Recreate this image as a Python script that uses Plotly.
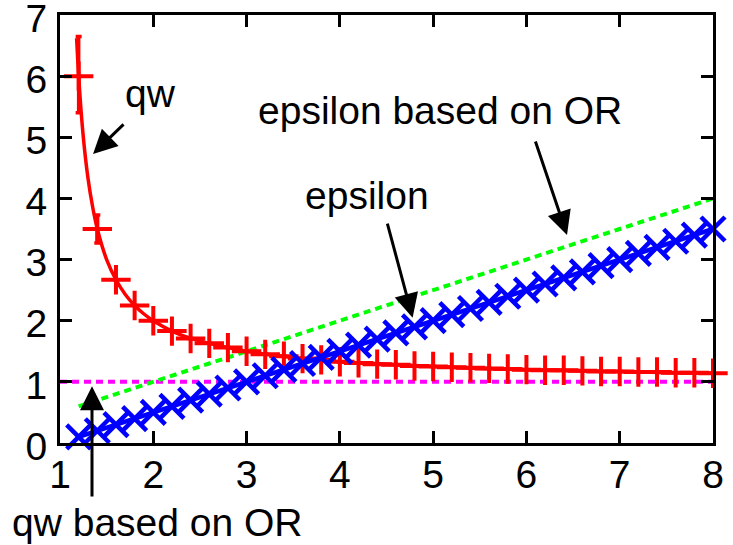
import plotly.graph_objects as go

# qw (measured points, + markers; error bars visible on the first points)
qw_alpha = [1.2, 1.4, 1.6, 1.8, 2.0, 2.2, 2.4, 2.6, 2.8, 3.0, 3.2, 3.4, 3.6, 3.8, 4.0,
            4.2, 4.4, 4.6, 4.8, 5.0, 5.2, 5.4, 5.6, 5.8, 6.0, 6.2, 6.4, 6.6, 6.8, 7.0,
            7.2, 7.4, 7.6, 7.8, 8.0]
qw_values = [6.0, 3.5, 2.67, 2.25, 2.0, 1.83, 1.71, 1.63, 1.56, 1.5, 1.45, 1.42, 1.38, 1.36, 1.33,
             1.31, 1.29, 1.28, 1.26, 1.25, 1.24, 1.23, 1.22, 1.21, 1.2, 1.19, 1.19, 1.18, 1.17, 1.17,
             1.16, 1.16, 1.15, 1.15, 1.14]
qw_err_plus = [0.65, 0.23] + [0.0] * 33
qw_err_minus = [0.6, 0.23] + [0.0] * 33

# qw theory curve (solid red)
qw_curve_alpha = [1.178, 1.2, 1.25, 1.3, 1.35, 1.4, 1.5, 1.6, 1.7, 1.8, 1.9, 2.0, 2.2, 2.4, 2.6,
                  2.8, 3.0, 3.5, 4.0, 4.5, 5.0, 5.5, 6.0, 6.5, 7.0, 7.5, 8.0]
qw_curve_values = [6.62, 6.0, 5.0, 4.33, 3.86, 3.5, 3.0, 2.67, 2.43, 2.25, 2.11, 2.0, 1.83, 1.71, 1.63,
                   1.56, 1.5, 1.4, 1.33, 1.29, 1.25, 1.22, 1.2, 1.18, 1.17, 1.15, 1.14]

# epsilon (blue x)
eps_alpha = qw_alpha
eps_values = [0.1, 0.2, 0.3, 0.4, 0.5, 0.6, 0.7, 0.8, 0.9, 1.0, 1.1, 1.2, 1.3, 1.4, 1.5,
              1.6, 1.7, 1.8, 1.9, 2.0, 2.1, 2.2, 2.3, 2.4, 2.5, 2.6, 2.7, 2.8, 2.9, 3.0,
              3.1, 3.2, 3.3, 3.4, 3.5]

# epsilon based on OR (green dotted)
eps_or_alpha = [1.2, 8.0]
eps_or_values = [0.6, 4.0]

# qw based on OR (magenta dotted)
qw_or_alpha = [1.0, 8.0]
qw_or_values = [1.0, 1.0]

x_ticks = [1, 2, 3, 4, 5, 6, 7, 8]
y_ticks = [0, 1, 2, 3, 4, 5, 6, 7]

FONT = "Liberation Sans, Arial, sans-serif"
FS = 39
RED = "#ff0000"
BLUE = "#0000ff"

fig = go.Figure()

fig.add_trace(go.Scatter(x=qw_or_alpha, y=qw_or_values, mode="lines",
                         line=dict(color="#ff00ff", width=4, dash="7px,5px"),
                         showlegend=False, cliponaxis=False))
fig.add_trace(go.Scatter(x=eps_or_alpha, y=eps_or_values, mode="lines",
                         line=dict(color="#00ff00", width=4, dash="7px,5px"),
                         showlegend=False, cliponaxis=False))
fig.add_trace(go.Scatter(x=qw_curve_alpha, y=qw_curve_values, mode="lines",
                         line=dict(color=RED, width=3.5, shape="spline", smoothing=0.6),
                         showlegend=False, cliponaxis=False))
fig.add_trace(go.Scatter(x=qw_alpha, y=qw_values, mode="markers",
                         marker=dict(symbol="cross-thin-open", size=21, color=RED,
                                     line=dict(color=RED, width=4)),
                         error_y=dict(type="data", symmetric=False, array=qw_err_plus,
                                      arrayminus=qw_err_minus, color=RED,
                                      thickness=3.5, width=3),
                         showlegend=False, cliponaxis=False))
fig.add_trace(go.Scatter(x=eps_alpha, y=eps_values, mode="lines+markers",
                         line=dict(color=BLUE, width=4.5),
                         marker=dict(symbol="x-thin-open", size=24, color=BLUE,
                                     line=dict(color=BLUE, width=4.5)),
                         showlegend=False, cliponaxis=False))

axis_common = dict(showgrid=False, zeroline=False, showline=True, linecolor="black",
                   linewidth=3, mirror="ticks", ticks="inside", ticklen=12, tickwidth=3,
                   tickcolor="black", ticklabeloverflow="allow", automargin=False,
                   tickfont=dict(family=FONT, size=FS, color="black"))

fig.update_xaxes(range=[1, 8], tickvals=x_ticks, ticktext=[str(v) for v in x_ticks],
                 ticklabelstandoff=-5, **axis_common)
fig.update_yaxes(range=[0, 7], tickvals=y_ticks, ticktext=[str(v) for v in y_ticks],
                 ticklabelstandoff=2, ticklabelshift=3, **axis_common)

ann_font = dict(family=FONT, size=FS, color="black")
arrow_style = dict(axref="x", ayref="y", text="", showarrow=True, arrowhead=2,
                   arrowsize=1.6, arrowwidth=3, arrowcolor="black")
annotations = [
    # texts
    dict(x=1.965, y=5.72, text="qw", showarrow=False, font=ann_font),
    dict(x=5.07, y=5.43, text="epsilon based on OR", showarrow=False, font=ann_font),
    dict(x=4.29, y=4.05, text="epsilon", showarrow=False, font=ann_font),
    dict(x=2.04, y=-0.185, yref="paper", yanchor="middle", text="qw based on OR",
         showarrow=False, font=ann_font),
    dict(x=8.18, y=-0.185, yref="paper", yanchor="middle", text="alpha=p/N",
         showarrow=False, xanchor="right", font=ann_font),
    # arrows
    dict(x=1.354, y=4.727, ax=1.697, ay=5.234, **arrow_style),
    dict(x=6.435, y=3.402, ax=6.091, ay=4.955, **arrow_style),
    dict(x=4.78, y=2.05, ax=4.505, ay=3.614, **arrow_style),
    dict(x=1.343, y=0.93, ax=1.343, ay=-0.90, **arrow_style),
]

fig.update_layout(width=733, height=545, margin=dict(l=60, r=20, t=15, b=102, autoexpand=False),
                  plot_bgcolor="white", paper_bgcolor="white",
                  annotations=annotations, showlegend=False)

fig.write_html("out.html", config={"displayModeBar": False},
               post_script="document.body.style.margin='0';")
